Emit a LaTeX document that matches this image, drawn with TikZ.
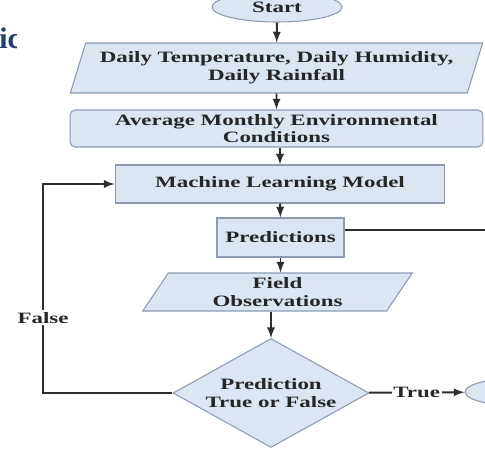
\documentclass[tikz,border=0pt]{standalone}
\usepackage{fontspec}
\usetikzlibrary{shapes.geometric}
\newfontfamily\chartfont[FakeStretch=1.45]{Liberation Serif}
\newfontfamily\headfont{Liberation Serif}
\definecolor{boxfill}{HTML}{DCE6F2}
\definecolor{boxline}{HTML}{8C9BB0}
\definecolor{flowline}{HTML}{2E2E2E}
\definecolor{headblue}{HTML}{1F3F6E}

\begin{document}
\begin{tikzpicture}[x=0.02cm, y=-0.02cm,
		box/.style={draw=boxline, fill=boxfill, line width=0.6pt, text=black!85, align=center, inner sep=0pt,
			font=\chartfont\bfseries\fontsize{9}{10}\selectfont},
		iobox/.style={box, trapezium, trapezium left angle=#1, trapezium right angle=180-#1, trapezium stretches=true},
		termbox/.style={box, ellipse, minimum width=2.6cm, minimum height=0.6cm},
		flow/.style={draw=flowline, line width=1.1pt, -latex},
		lbl/.style={fill=white, inner sep=1pt, text=black!85, font=\chartfont\bfseries\fontsize{9}{10}\selectfont}]
		%%%%% START %%%%%
		
		\useasboundingbox (0, 0) rectangle (485, 450);
		\clip (0, 0) rectangle (485, 450);
		\fill[white] (0, 0) rectangle (485, 450);
		
		% cut-off heading on the left
		\begin{scope}
			\clip (0, 20) rectangle (17, 60);
			\node[anchor=base west, inner sep=0pt, text=headblue, font=\headfont\bfseries\fontsize{17}{20}\selectfont] (head) at (-1, 48) {ic};
		\end{scope}
		
		\node[termbox] (start) at (277, 7) {Start};
		\node[iobox=66, minimum width=8.26cm, minimum height=1cm] (data) at (276.5, 68) {Daily Temperature, Daily Humidity,\\Daily Rainfall};
		\node[box, rounded corners=3pt, minimum width=8.26cm, minimum height=0.74cm] (avg) at (276.5, 128.5) {Average Monthly Environmental\\Conditions};
		\node[box, minimum width=6.6cm, minimum height=0.76cm] (mlm) at (280, 184) {Machine Learning Model};
		\node[box, minimum width=2.54cm, minimum height=0.78cm] (pred) at (280.5, 237.5) {Predictions};
		\node[iobox=62, minimum width=5.42cm, minimum height=0.76cm] (field) at (277.5, 292) {Field\\Observations};
		\node[box, diamond, aspect=1.8, minimum width=3.92cm, minimum height=2.18cm] (dec) at (271, 393) {Prediction\\True or False};
		\node[termbox] (end) at (530, 392) {};
		
		\coordinate (predout) at (490, 230);
		\coordinate (loop) at (43, 393);
		
		\draw[flow] (start) -- (data);
		\draw[flow] (data) -- (avg);
		\draw[flow] (avg.south -| mlm.north) -- (mlm);
		\draw[flow] (mlm) -- (pred);
		\draw[flow] (pred) -- (pred.south |- field.north);
		\draw[flow] (dec.north |- field.south) -- (dec);
		\draw[draw=flowline, line width=1.1pt] (pred.east |- predout) -- (predout);
		\draw[flow] (dec) -- node[lbl] {True} (end);
		\draw[flow] (dec.west) -- (loop) |- (mlm.west) node[lbl, pos=0.18] {False};
		
		%%%%% END %%%%%
	\end{tikzpicture}
\end{document}
